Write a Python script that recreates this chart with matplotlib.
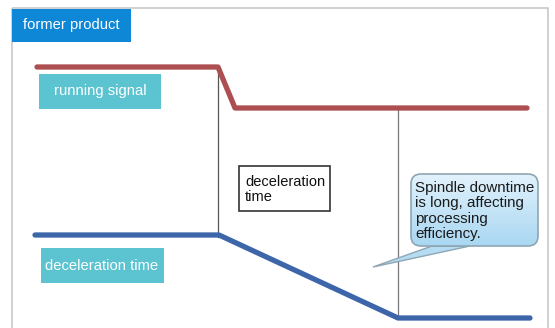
import matplotlib
matplotlib.use("Agg")
import matplotlib.pyplot as plt
import numpy as np
from matplotlib.patches import Rectangle, FancyBboxPatch, Polygon

# signal traces (x = time position, y = level, in picture units)
run_t = [37, 218, 235, 527]
run_level = [67, 67, 108, 108]
decel_t = [35, 219, 398, 530]
decel_level = [235, 235, 318, 318]

# time markers
stop_cmd_t = 218
stop_done_t = 398

title_text = "former product"
run_label = "running signal"
decel_label = "deceleration time"
decel_box_text = "deceleration\ntime"
note_text = "Spindle downtime\nis long, affecting\nprocessing\nefficiency."

plt.rcParams["font.family"] = ["Liberation Sans", "DejaVu Sans"]

fig = plt.figure(figsize=(5.55, 3.28), dpi=100)
ax = fig.add_axes([0, 0, 1, 1])
ax.set_xlim(0, 555)
ax.set_ylim(328, 0)
ax.axis("off")

# outer frame
ax.add_patch(Rectangle((12, 8), 536, 330, fill=False, ec="#c8c8c8", lw=1.2))

# title tab
ax.add_patch(Rectangle((12, 9), 119, 33, fc="#0d87d6", ec="none"))
ax.text(71, 25.5, title_text, color="white", fontsize=10.6, ha="center", va="center")

# vertical time markers
ax.plot([stop_cmd_t, stop_cmd_t], [run_level[0], decel_level[0] + 2], color="#555555", lw=0.9)
ax.plot([stop_done_t, stop_done_t], [run_level[-1], decel_level[-1]], color="#777777", lw=0.9)

# traces
ax.plot(run_t, run_level, color="#ad4f50", lw=3.8, solid_capstyle="round", solid_joinstyle="round")
ax.plot(decel_t, decel_level, color="#3d66aa", lw=3.8, solid_capstyle="round", solid_joinstyle="round")

# teal labels
ax.add_patch(Rectangle((39, 74), 122, 35, fc="#5cc3d1", ec="none"))
ax.text(100, 91.5, run_label, color="white", fontsize=10.6, ha="center", va="center")
ax.add_patch(Rectangle((41, 248), 123, 35, fc="#5cc3d1", ec="none"))
ax.text(102, 265.5, decel_label, color="white", fontsize=10.6, ha="center", va="center")

# deceleration time box
ax.add_patch(Rectangle((239, 166), 91, 45, fc="white", ec="#333333", lw=1.2))
ax.text(245, 189.5, decel_box_text, color="#111111", fontsize=10.5, ha="left", va="center",
        linespacing=1.05)

# callout
box = FancyBboxPatch((411, 174), 127, 72, boxstyle="round,pad=0,rounding_size=10",
                     fc="none", ec="#8fa6b3", lw=1.2, zorder=4)
tail = Polygon([(432, 246), (373, 267), (470, 246)], closed=True, fc="#b4dcf3",
               ec="#8fa6b3", lw=1.0, zorder=3)
ax.add_patch(tail)
fill = FancyBboxPatch((411, 174), 127, 72, boxstyle="round,pad=0,rounding_size=10",
                      fc="#b4dcf3", ec="none", zorder=3.5)
ax.add_patch(fill)
grad = np.linspace(0, 1, 100).reshape(-1, 1)
img = ax.imshow(grad, extent=(411, 538, 246, 174), cmap=matplotlib.colors.LinearSegmentedColormap.from_list(
    "g", ["#e2f2fc", "#a9d7f2"]), aspect="auto", zorder=3.6)
img.set_clip_path(fill)
ax.add_patch(box)
ax.text(415, 211, note_text, color="#1a1a1a", fontsize=10.9, ha="left", va="center",
        linespacing=1.12, zorder=5)

ax.set_xlim(0, 555)
ax.set_ylim(328, 0)
fig.savefig("out.png", dpi=100)
